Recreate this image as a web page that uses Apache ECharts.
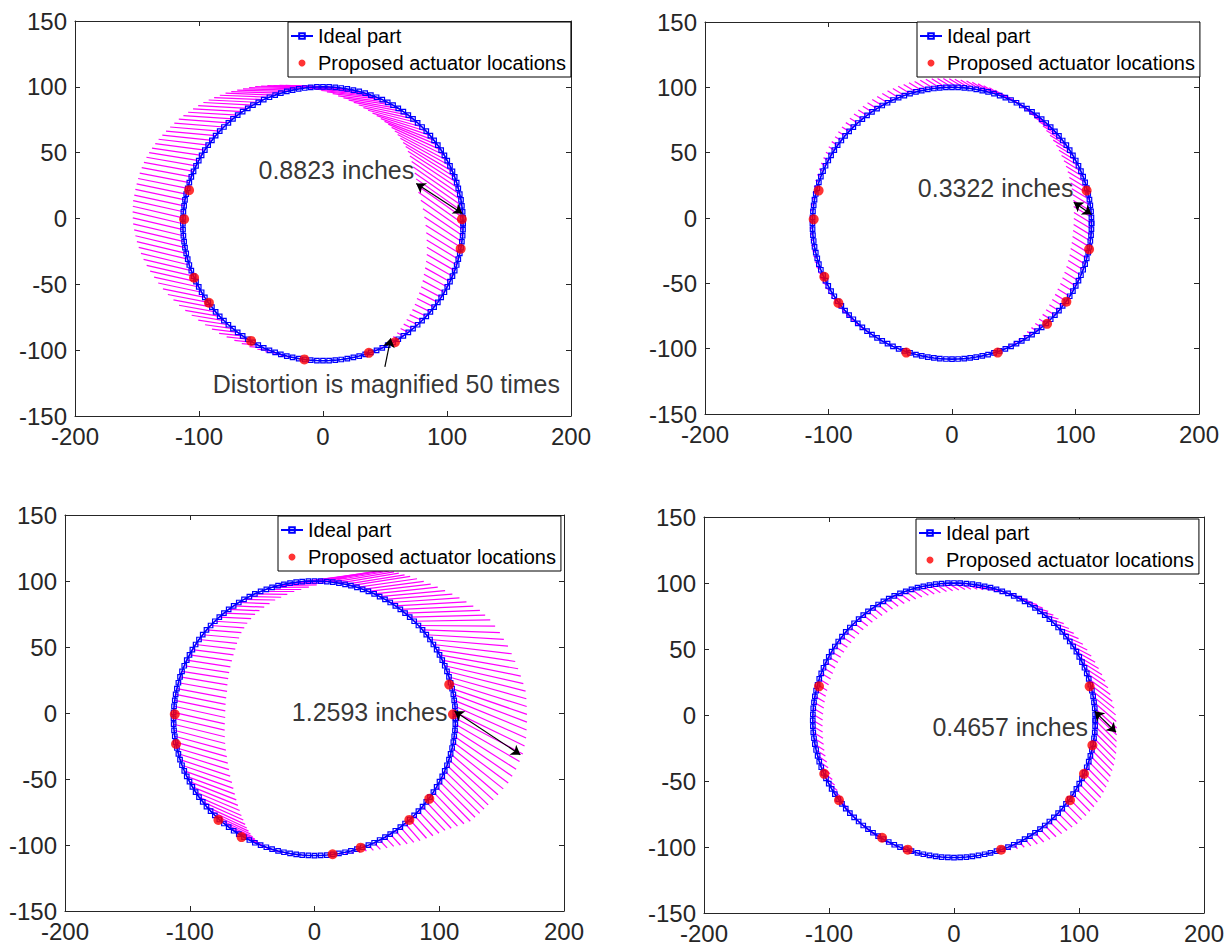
<!DOCTYPE html>
<html><head><meta charset="utf-8">
<script src="https://cdn.jsdelivr.net/npm/echarts@6/dist/echarts.min.js"></script>
<style>html,body{margin:0;padding:0;background:#fff}#c{width:1232px;height:949px}</style>
</head><body><div id="c"></div>
<script>
// Ideal part outline (sampled every 2.5 degrees, counter-clockwise from the right)
const idealX = [113.0,112.9,112.6,112.0,111.3,110.3,109.1,107.8,106.2,104.4,102.4,100.2,97.9,95.3,92.6,89.6,86.6,83.3,79.9,76.3,72.6,68.8,64.8,60.7,56.5,52.2,47.8,43.2,38.6,34.0,29.2,24.5,19.6,14.7,9.9,4.9,0.0,
-4.9,-9.9,-14.7,-19.6,-24.5,-29.2,-34.0,-38.6,-43.2,-47.8,-52.2,-56.5,-60.7,-64.8,-68.8,-72.6,-76.3,-79.9,-83.3,-86.6,-89.6,-92.6,-95.3,-97.9,-100.2,-102.4,-104.4,-106.2,-107.8,-109.1,-110.3,-111.3,-112.0,-112.6,-112.9,-113.0,
-112.9,-112.6,-112.0,-111.3,-110.3,-109.1,-107.8,-106.2,-104.4,-102.4,-100.2,-97.9,-95.3,-92.6,-89.6,-86.6,-83.3,-79.9,-76.3,-72.6,-68.8,-64.8,-60.7,-56.5,-52.2,-47.8,-43.2,-38.6,-34.0,-29.2,-24.5,-19.6,-14.7,-9.9,-4.9,0.0,
4.9,9.9,14.7,19.6,24.5,29.2,34.0,38.6,43.2,47.8,52.2,56.5,60.7,64.8,68.8,72.6,76.3,79.9,83.3,86.6,89.6,92.6,95.3,97.9,100.2,102.4,104.4,106.2,107.8,109.1,110.3,111.3,112.0,112.6,112.9];
const idealY = [-4.0,0.5,5.1,9.6,14.1,18.5,22.9,27.3,31.6,35.8,40.0,44.0,48.0,51.9,55.7,59.3,62.9,66.3,69.5,72.7,75.7,78.5,81.2,83.7,86.1,88.2,90.3,92.1,93.7,95.2,96.5,97.5,98.4,99.1,99.6,99.9,100.0,
99.9,99.6,99.1,98.4,97.5,96.5,95.2,93.7,92.1,90.3,88.2,86.1,83.7,81.2,78.5,75.7,72.7,69.5,66.3,62.9,59.3,55.7,51.9,48.0,44.0,40.0,35.8,31.6,27.3,22.9,18.5,14.1,9.6,5.1,0.5,-4.0,
-8.5,-13.1,-17.6,-22.1,-26.5,-30.9,-35.3,-39.6,-43.8,-48.0,-52.0,-56.0,-59.9,-63.7,-67.3,-70.9,-74.3,-77.5,-80.7,-83.7,-86.5,-89.2,-91.7,-94.1,-96.2,-98.3,-100.1,-101.7,-103.2,-104.5,-105.5,-106.4,-107.1,-107.6,-107.9,-108.0,
-107.9,-107.6,-107.1,-106.4,-105.5,-104.5,-103.2,-101.7,-100.1,-98.3,-96.2,-94.1,-91.7,-89.2,-86.5,-83.7,-80.7,-77.5,-74.3,-70.9,-67.3,-63.7,-59.9,-56.0,-52.0,-48.0,-43.8,-39.6,-35.3,-30.9,-26.5,-22.1,-17.6,-13.1,-8.5];

// Magnified distortion (x50) at each outline point, per panel
const dx1 = [-36,-36.8,-37.5,-38,-38.5,-38.8,-39,-39.3,-39.5,-39.8,
-40,-40,-40,-40,-40,-40,-40,-40,-40,-40,
-40,-40,-40,-40,-40,-40,-40,-40,-40,-40,
-40,-40,-40,-40,-40,-40,-40,-40,-40,-40,
-40,-40,-40,-40,-40,-40,-40,-40,-40,-40,
-40,-40,-40,-40,-40,-40,-40,-40,-40,-40,
-40,-40,-40,-40,-40,-40,-40,-40,-40,-40.2,
-40.5,-40.5,-40.5,-40.5,-40.5,-40.3,-40,-39.8,-39.5,-39,
-38.5,-37.8,-37,-36,-35,-33.8,-32.5,-31,-29.5,-27.8,
-26,-24.3,-22.5,-20.8,-19,-17,-15,-13.3,-11.5,-9.8,
-8,-6.5,-5,-4,-3,-2.2,-1.5,-1,-0.5,-0.2,
0,0,0,0,0,-0.2,-0.5,-1,-1.5,-2.2,
-3,-4,-5,-6.2,-7.5,-8.8,-10,-11.2,-12.5,-13.8,
-15,-16.2,-17.5,-18.8,-20,-21.2,-22.5,-24,-25.5,-27,
-28.5,-30.2,-32,-34];
const dy1 = [24,24.6,25,25,25,24.8,24.5,23.8,23,22,
21,19.8,18.5,17.3,16,14.5,13,11.8,10.5,9.5,
8.5,7.7,7,6.2,5.5,5,4.5,4,3.5,3,
2.5,2.2,2,1.7,1.5,1.2,1,1,1,1,
1,1,1,1.2,1.5,1.5,1.5,1.8,2,2,
2,2.2,2.5,2.8,3,3.2,3.5,4,4.5,5,
5.5,6,6.5,6.8,7,7.2,7.5,7.8,8,8.2,
8.5,8.8,9,9,9,9,9,9,9,8.8,
8.5,8.2,8,7.5,7,6.5,6,5.5,5,4.5,
4,3.5,3,2.5,2,1.8,1.5,1.2,1,0.8,
0.5,0.4,0.3,0.2,0.2,0.2,0.2,0.2,0.2,0.1,
0,0,0,0,0,0.1,0.3,0.5,0.8,1.2,
1.6,2,2.5,3,3.5,4,4.5,5.1,5.8,6.5,
7.2,8,8.8,9.6,10.5,11.4,12.3,13.4,14.5,15.7,
17,18.7,20.5,22.3];

// Panel 2: distortion magnitude along a common direction (degrees)
const dir2 = 150;
const mag2 = [16.5,16.6,16.6,16.6,16.5,16.4,16.3,16.2,16,15.9,
15.8,15.7,15.5,15.4,15.3,15.2,15,15,15,15,
15,15,15,15,15,15,15,15,15,14.9,
14.8,14.7,14.5,14.3,14,13.8,13.5,13.3,13,12.7,
12.3,11.9,11.5,11.1,10.7,10.4,10,9.7,9.3,8.9,
8.5,8.2,7.8,7.4,7,6.7,6.3,5.9,5.5,5.2,
4.8,4.4,4,3.7,3.4,3.2,3,2.8,2.7,2.6,
2.5,2.5,2.5,2.6,2.7,2.8,3,3.2,3.5,3.7,
4,4.4,4.8,5.2,5.5,5.8,6,6.3,6.5,6.5,
6.5,6.3,6,5.5,5,4.5,4,3.5,3,2.5,
2,1.6,1.2,0.9,0.6,0.4,0.3,0.1,0,0,
0,0,0,0.1,0.3,0.5,0.8,1.3,1.8,2.4,
3,3.7,4.5,5.2,6,6.7,7.5,8.2,9,9.7,
10.5,11.2,11.8,12.4,13,13.5,14,14.5,15,15.4,
15.8,16.1,16.3,16.4];

const dx3 = [54,55.5,57,58,59,60,61,62,63,63,
63,63,63,62.8,62.5,62.2,62,61.5,61,60.5,
60,58.5,57,55.5,54,52.5,51,50,49,48.2,
47.5,47.7,48,49,50,50,50,47.5,45,40.5,
36,33.5,31,29.5,28,27,26,25.5,25,24.7,
24.5,24.7,25,25.5,26,27,28,29.2,30.5,31.8,
33,34,35,36,37,38,39,39.5,40,40.5,
41,41,41,41,41,41,41,40.8,40.5,40.2,
40,39.3,38.5,37.5,36.5,35.3,34,32.5,31,29,
27,25,23,21,19,16.8,14.5,12.3,10,8.2,
6.5,5.2,4,3,2,1.4,0.8,0.4,0,0,
0,0.5,1,1.5,2,2.5,3,4,5,6,
7,8.2,9.5,10.8,12,13.5,15,16.5,18,20,
22,24.5,27,28.5,30,31.5,33,35.5,38,41,
44,46.5,49,51.5];
const dy3 = [-27,-25.5,-24,-22.5,-21,-19.5,-18,-16.5,-15,-13.5,
-12,-10.5,-9,-7,-5,-3.5,-2,-0.5,1,1.5,
2,2.5,3,3.5,4,4.5,5,5.5,6,6.5,
7,7.2,7.5,7.8,8,7.8,7.5,6.3,5,3.2,
1.5,1,0.5,0.2,0,-0.2,-0.5,-0.5,-0.5,-0.8,
-1,-1,-1,-1.2,-1.5,-1.8,-2,-2.5,-3,-3.5,
-4,-4.5,-5,-5.2,-5.5,-6,-6.5,-7,-7.5,-8,
-8.5,-8.8,-9,-9.5,-10,-10.5,-11,-11.5,-12,-12.5,
-13,-13.3,-13.5,-13.8,-14,-14,-14,-13.8,-13.5,-12.8,
-12,-11,-10,-9,-8,-7,-6,-5,-4,-3.2,
-2.5,-2,-1.5,-1.2,-0.8,-0.5,-0.3,-0.1,0,0,
0,-0.5,-1,-1.5,-2,-2.5,-3,-4,-5,-6,
-7,-8.5,-10,-11.5,-13,-14.2,-15.5,-16.8,-18,-20,
-22,-24,-26,-27,-28,-29,-30,-30.5,-31,-31,
-31,-30.3,-29.5,-28.2];

const dx4 = [17,17.2,17.5,17.8,18,17.8,17.5,17.2,17,16.5,
16,15.5,15,14.5,14,13.5,13,12.5,12,11.5,
11,10.7,10.5,10.2,10,9.7,9.5,9.2,9,8.7,
8.5,8.5,8.6,8.6,8.7,8.7,8.8,8.8,8.8,8.7,
8.7,8.7,8.7,8.3,8,8,8,7.5,7.3,7.3,
7.3,7.3,7.3,7.3,7.3,7.3,7.3,7.3,7.3,7.3,
7.3,7.3,7.3,7.4,7.5,7.5,7.6,7.7,7.8,7.8,
7.8,7.8,7.8,7.8,7.8,7.7,7.5,7.4,7.3,7.1,
7,7,6.9,6.8,6.6,6.4,6.2,6,5.9,5.6,
5.4,5.1,4.8,4.5,4.2,3.9,3.6,3.2,2.9,2.5,
2.2,1.8,1.5,1.2,1,0.8,0.6,0.4,0.3,0.1,
0,0,0,0.2,0.5,1,1.5,2.2,3,4,
5,6,7,8,9,9.8,10.5,11.2,12,12.5,
13,13.5,14,14.5,15,15.2,15.5,15.8,16,16.2,
16.5,16.8,17,17];
const dy4 = [-16,-15.5,-15,-14.5,-14,-13.3,-12.5,-11.8,-11,-10.2,
-9.5,-8.7,-8,-7.2,-6.5,-5.7,-5,-4.5,-4,-3.5,
-3,-2.8,-2.7,-2.6,-2.5,-2.6,-2.8,-2.9,-3,-3.2,
-3.4,-3.6,-3.8,-4.1,-4.4,-4.7,-5,-5.2,-5.4,-5.6,
-5.8,-5.8,-5.8,-5.8,-5.8,-5.8,-5.8,-5.8,-5.8,-5.8,
-5.8,-5.7,-5.5,-5.2,-5,-4.9,-4.8,-4.5,-4.3,-4.3,
-4.3,-4.3,-4.3,-4.3,-4.3,-4.3,-4.3,-4.3,-4.3,-4.3,
-4.3,-4.3,-4.3,-4.4,-4.5,-4.5,-4.6,-4.6,-4.7,-4.7,
-4.9,-5,-5.1,-5.2,-5.3,-5.4,-5.4,-5.3,-5.2,-5,
-4.8,-4.4,-4.1,-3.8,-3.5,-3.2,-2.9,-2.5,-2.2,-1.9,
-1.6,-1.4,-1.2,-1,-0.8,-0.6,-0.5,-0.4,-0.3,-0.1,
0,0,0,-0.2,-0.5,-1,-1.5,-2.2,-3,-4,
-5,-6,-7,-7.7,-8.5,-9.2,-10,-10.7,-11.5,-12,
-12.5,-13,-13.5,-14,-14.5,-14.7,-15,-15.2,-15.5,-15.7,
-16,-16,-16,-16];

// Proposed actuator locations per panel
const act1 = [[-108,21.5],[-112,-0.5],[-104,-45],[-92,-64],[-58,-93],[-15,-107],[37,-102],[58,-94],[112,-0.5],[111,-23]];
const act2 = [[-108,21],[-112,-1],[-103.4,-45],[-92,-65],[-37,-103],[37,-103],[77,-81],[92.6,-64],[109,21],[111,-24]];
const act3 = [[-112,-1],[-111,-23.5],[-77,-81],[-58.5,-94],[14.5,-107],[37,-102],[76,-81],[92,-65],[108,21.5],[111,-1]];
const act4 = [[-108,21.7],[-103.8,-44.6],[-92,-64.5],[-57.5,-93],[-37,-102],[37.7,-102],[92.8,-64.5],[104,-44.6],[110.7,-23],[108.5,21.7]];

// Annotations (text anchored at its left edge, vertically centred)
const notes1 = [{text:'0.8823 inches', x:-52, y:36.7}, {text:'Distortion is magnified 50 times', x:-89, y:-125.7}];
const notes2 = [{text:'0.3322 inches', x:-27.7, y:23}];
const notes3 = [{text:'1.2593 inches', x:-18.2, y:0.5}];
const notes4 = [{text:'0.4657 inches', x:-17.3, y:-9}];
// Arrows
const arrows1 = [{from:[112.4,3.8], to:[75.2,26.6], both:true}, {from:[49.9,-112.6], to:[54.6,-91], both:false}];
const arrows2 = [{from:[113,2.6], to:[98.6,12], both:true}];
const arrows3 = [{from:[112.3,1.3], to:[165,-31.6], both:true}];
const arrows4 = [{from:[112.6,2.8], to:[129.6,-13.1], both:true}];

const F = '"Liberation Sans", Arial, Helvetica, sans-serif';
const AX = '#262626';
const rad2 = dir2 * Math.PI / 180;
const dx2 = mag2.map(m => m * Math.cos(rad2));
const dy2 = mag2.map(m => m * Math.sin(rad2));

const panels = [
  {grid:{left:75, top:21, width:496, height:395}, legend:{left:288, top:22}, dx:dx1, dy:dy1, act:act1, notes:notes1, arrows:arrows1},
  {grid:{left:705, top:22, width:494, height:392}, legend:{left:917, top:22}, dx:dx2, dy:dy2, act:act2, notes:notes2, arrows:arrows2},
  {grid:{left:65, top:515, width:499, height:396}, legend:{left:278, top:516}, dx:dx3, dy:dy3, act:act3, notes:notes3, arrows:arrows3},
  {grid:{left:704, top:517, width:500, height:396}, legend:{left:916, top:519}, dx:dx4, dy:dy4, act:act4, notes:notes4, arrows:arrows4}
];

function axisCommon(showLabel){
  return {
    axisLine:{show:true, onZero:false, lineStyle:{color:AX, width:1}},
    axisTick:{show:true, inside:true, length:5, lineStyle:{color:AX, width:1}},
    axisLabel:{show:showLabel, fontSize:24, color:AX, fontFamily:F, margin:8},
    splitLine:{show:false}
  };
}

const grids = [], xAxes = [], yAxes = [], series = [], legends = [];
panels.forEach((p, i) => {
  grids.push(Object.assign({containLabel:false}, p.grid));
  xAxes.push(Object.assign({type:'value', gridIndex:i, position:'bottom', min:-200, max:200, interval:100}, axisCommon(true)));
  yAxes.push(Object.assign({type:'value', gridIndex:i, position:'left', min:-150, max:150, interval:50}, axisCommon(true)));
  legends.push({
    orient:'vertical', left:p.legend.left, top:p.legend.top, selectedMode:false,
    data:['Ideal part','Proposed actuator locations'],
    itemWidth:22, itemHeight:7, itemGap:7, padding:[4,5,4,2],
    borderColor:'#000', borderWidth:1, backgroundColor:'#fff',
    textStyle:{fontSize:20, color:'#000', fontFamily:F}
  });
});
panels.forEach((p, i) => {
  xAxes.push(Object.assign({type:'value', gridIndex:i, position:'top', min:-200, max:200, interval:100}, axisCommon(false)));
  yAxes.push(Object.assign({type:'value', gridIndex:i, position:'right', min:-150, max:150, interval:50}, axisCommon(false)));
});

panels.forEach((p, i) => {
  const hatch = idealX.map((x, k) => ({coords:[[x, idealY[k]], [x + p.dx[k], idealY[k] + p.dy[k]]]}));
  series.push({type:'lines', coordinateSystem:'cartesian2d', xAxisIndex:i, yAxisIndex:i, silent:true,
    polyline:false, symbol:['none','none'], lineStyle:{color:'#FF00FF', width:1.2, opacity:1, curveness:0},
    data:hatch, z:2});
  const ideal = idealX.map((x, k) => [x, idealY[k]]);
  ideal.push([idealX[0], idealY[0]]);
  series.push({type:'line', name:'Ideal part', xAxisIndex:i, yAxisIndex:i, data:ideal, silent:true,
    symbol:'rect', symbolSize:4.5, showSymbol:true,
    lineStyle:{color:'#0000FF', width:1.6},
    itemStyle:{color:'none', borderColor:'#0000FF', borderWidth:1.2},
    z:3});
  series.push({type:'scatter', name:'Proposed actuator locations', xAxisIndex:i, yAxisIndex:i, data:p.act,
    symbol:'circle', symbolSize:10, itemStyle:{color:'#FF0000'}, silent:true, z:4});
  series.push({type:'lines', coordinateSystem:'cartesian2d', xAxisIndex:i, yAxisIndex:i, silent:true,
    symbolSize:9,
    data:p.arrows.map(a => ({coords:[a.from, a.to], symbol:[a.both ? 'arrow' : 'none', 'arrow']})),
    lineStyle:{color:'#000', width:1.2, opacity:1}, z:5});
  series.push({type:'scatter', xAxisIndex:i, yAxisIndex:i, silent:true, symbolSize:0, z:6,
    data:p.notes.map(n => ({value:[n.x, n.y], label:{formatter:n.text}})),
    label:{show:true, position:'right', distance:0, fontSize:25, color:'#000', fontFamily:F}});
});

const chart = echarts.init(document.getElementById('c'), null, {renderer:'svg'});
chart.setOption({
  animation:false,
  backgroundColor:'#fff',
  grid:grids, xAxis:xAxes, yAxis:yAxes, legend:legends, series:series
});
</script></body></html>
